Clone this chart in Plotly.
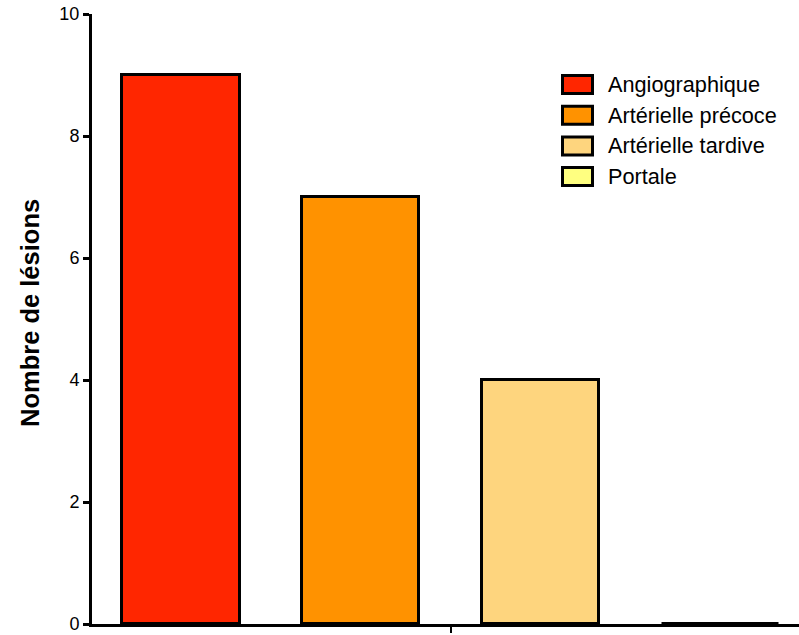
import plotly.graph_objects as go

categories = ["Angiographique", "Artérielle précoce", "Artérielle tardive", "Portale"]
values = [9, 7, 4, 0]
colors = ["#FF2600", "#FF9200", "#FED57E", "#FFFF80"]
y_ticks = [0, 2, 4, 6, 8, 10]

W, H = 799, 635
L, R, T, B = 92, 0, 14, 11
pw, ph = W - L - R, H - T - B

fig = go.Figure()
for i, (c, v, col) in enumerate(zip(categories, values, colors)):
    fig.add_trace(go.Bar(
        x=[i], y=[v], name=c, width=0.655,
        marker=dict(color=col, line=dict(color="black", width=3)),
        showlegend=False,
    ))

# custom legend (large boxes like the original); coordinates in page pixels
def px2x(p):
    return (p - L) / pw

def py2y(p):
    return (H - B - p) / ph

row0, step = 84.5, 30.7
for i, (c, col) in enumerate(zip(categories, colors)):
    cy = row0 + i * step
    fig.add_shape(type="rect", xref="paper", yref="paper",
                  x0=px2x(562.5), x1=px2x(592.5), y0=py2y(cy + 9), y1=py2y(cy - 9),
                  fillcolor=col, line=dict(color="black", width=3))
    fig.add_annotation(x=px2x(606), y=py2y(cy), xref="paper", yref="paper",
                       text=c, showarrow=False, xanchor="left", yanchor="middle",
                       font=dict(family="Arial", size=21.7, color="black"))

fig.add_annotation(x=px2x(30), y=py2y(313), xref="paper", yref="paper",
                   text="<b>Nombre de lésions</b>", showarrow=False, textangle=-90,
                   xanchor="center", yanchor="middle",
                   font=dict(family="Arial", size=25.5, color="black"))

fig.update_layout(
    width=W, height=H,
    margin=dict(l=L, r=R, t=T, b=B, pad=0),
    plot_bgcolor="white", paper_bgcolor="white",
    bargap=0, barmode="overlay",
    font=dict(family="Arial", color="black"),
    xaxis=dict(range=[-0.492, 3.436], showgrid=False, zeroline=False,
               showline=True, linecolor="black", linewidth=3,
               tickvals=[1.5], ticktext=[""], ticks="outside",
               ticklen=6, tickwidth=2, tickcolor="black"),
    yaxis=dict(range=[0, 10], showgrid=False, zeroline=False,
               showline=True, linecolor="black", linewidth=3,
               tickvals=y_ticks, ticks="outside", ticklen=6, tickwidth=2.5,
               tickcolor="black", tickfont=dict(family="Arial", size=18, color="black")),
)

# remove the browser's default 8px body margin so the figure fills the window
fig.write_html("out.html", config={"displayModeBar": False},
               post_script="document.body.style.margin='0';")
